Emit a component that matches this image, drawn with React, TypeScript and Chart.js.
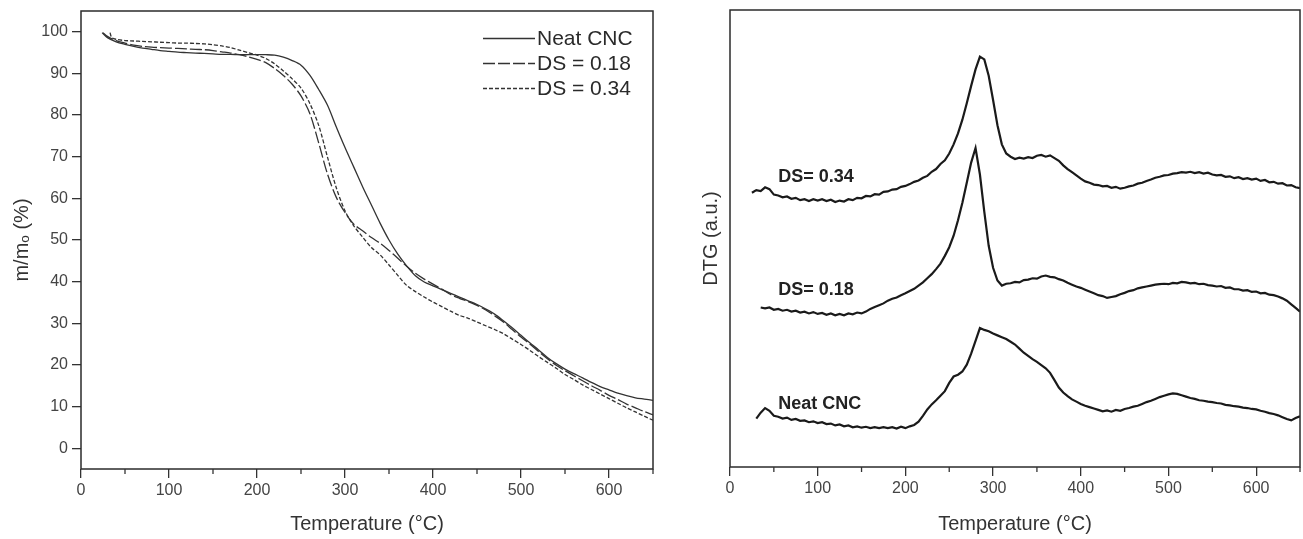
import React, { useEffect, useRef } from "react";
import { Chart, registerables } from "chart.js";

Chart.register(...registerables);

const FONT = "'Liberation Sans', Arial, Helvetica, sans-serif";

// ---------- TGA (left panel) ----------
const tgaNeatTemp = [24, 30, 40, 50, 60, 70, 80, 90, 100, 110, 120, 130, 140, 150, 160, 170, 180, 190, 200, 210, 220, 230, 240, 250, 260, 270, 280, 290, 300, 310, 320, 330, 340, 350, 360, 370, 380, 390, 400, 410, 420, 430, 440, 450, 460, 470, 480, 490, 500, 510, 520, 530, 540, 550, 560, 570, 580, 590, 600, 610, 620, 630, 640, 650];
const tgaNeatMass = [99.8, 98.6, 97.6, 97.0, 96.5, 96.1, 95.8, 95.5, 95.3, 95.1, 95.0, 94.9, 94.8, 94.7, 94.6, 94.6, 94.5, 94.5, 94.5, 94.5, 94.4, 93.9, 93.1, 92.0, 89.6, 86.2, 82.4, 77.2, 72.2, 67.5, 62.8, 58.4, 54.0, 50.0, 46.6, 43.8, 41.4, 39.9, 39.0, 38.1, 37.2, 36.3, 35.4, 34.5, 33.4, 32.2, 30.6, 28.9, 27.1, 25.3, 23.6, 21.8, 20.3, 19.0, 17.9, 16.9, 15.8, 14.8, 14.0, 13.2, 12.6, 12.1, 11.8, 11.5];

const tgaDs18Temp = [25, 30, 40, 50, 60, 70, 80, 90, 100, 110, 120, 130, 140, 150, 160, 170, 180, 190, 200, 210, 220, 230, 240, 250, 260, 270, 280, 290, 300, 310, 320, 330, 340, 350, 360, 370, 380, 390, 400, 410, 420, 430, 440, 450, 460, 470, 480, 490, 500, 510, 520, 530, 540, 550, 560, 570, 580, 590, 600, 610, 620, 630, 640, 650];
const tgaDs18Mass = [99.8, 98.9, 97.9, 97.3, 96.8, 96.5, 96.3, 96.2, 96.1, 96.0, 95.9, 95.8, 95.7, 95.5, 95.2, 94.9, 94.5, 94.0, 93.4, 92.6, 91.2, 89.5, 87.4, 84.6, 80.4, 73.4, 65.9, 60.3, 56.6, 53.8, 52.2, 50.6, 49.2, 47.5, 45.6, 43.7, 42.0, 40.6, 39.4, 38.2, 36.9, 36.0, 35.2, 34.3, 33.2, 31.8, 30.3, 28.5, 26.7, 25.0, 23.2, 21.5, 19.9, 18.6, 17.4, 16.2, 15.0, 13.9, 12.7, 11.7, 10.6, 9.7, 8.8, 8.0];

const tgaDs34Temp = [33, 35, 40, 50, 60, 70, 80, 90, 100, 110, 120, 130, 140, 150, 160, 170, 180, 190, 200, 210, 220, 230, 240, 250, 260, 270, 280, 290, 300, 310, 320, 330, 340, 350, 360, 370, 380, 390, 400, 410, 420, 430, 440, 450, 460, 470, 480, 490, 500, 510, 520, 530, 540, 550, 560, 570, 580, 590, 600, 610, 620, 630, 640, 650];
const tgaDs34Mass = [99.8, 98.6, 98.2, 97.9, 97.8, 97.7, 97.6, 97.5, 97.4, 97.3, 97.3, 97.2, 97.1, 96.9, 96.6, 96.2, 95.6, 95.0, 94.4, 93.6, 92.3, 90.6, 88.7, 86.5, 82.8, 77.6, 70.0, 62.6, 57.0, 53.4, 50.7, 48.2, 46.4, 44.0, 41.5, 39.1, 37.6, 36.3, 35.1, 34.0, 32.9, 31.9, 31.2, 30.3, 29.4, 28.5, 27.5, 26.2, 24.9, 23.5, 22.0, 20.6, 19.2, 17.7, 16.5, 15.2, 14.1, 13.0, 11.9, 10.8, 9.7, 8.7, 7.7, 6.7];

const tgaLabels = ["Neat CNC", "DS = 0.18", "DS = 0.34"];
const tgaYTicks = [0, 10, 20, 30, 40, 50, 60, 70, 80, 90, 100];
const xTicks = [0, 50, 100, 150, 200, 250, 300, 350, 400, 450, 500, 550, 600, 650];

// ---------- DTG (right panel) ----------
const dtgDs34Temp = [25, 30, 35, 40, 45, 50, 55, 60, 65, 70, 75, 80, 85, 90, 95, 100, 105, 110, 115, 120, 125, 130, 135, 140, 145, 150, 155, 160, 165, 170, 175, 180, 185, 190, 195, 200, 205, 210, 215, 220, 225, 230, 235, 240, 245, 250, 255, 260, 265, 270, 275, 280, 285, 290, 295, 300, 305, 310, 315, 320, 325, 330, 335, 340, 345, 350, 355, 360, 365, 370, 375, 380, 385, 390, 395, 400, 405, 410, 415, 420, 425, 430, 435, 440, 445, 450, 455, 460, 465, 470, 475, 480, 485, 490, 495, 500, 505, 510, 515, 520, 525, 530, 535, 540, 545, 550, 555, 560, 565, 570, 575, 580, 585, 590, 595, 600, 605, 610, 615, 620, 625, 630, 635, 640, 645, 650];
const dtgDs34 = [60.0, 60.6, 60.4, 61.2, 60.8, 59.6, 59.4, 59.0, 59.2, 58.7, 58.9, 58.4, 58.6, 58.2, 58.6, 58.3, 58.6, 58.2, 58.5, 58.0, 58.3, 58.1, 58.6, 58.4, 58.9, 58.8, 59.3, 59.2, 59.7, 59.6, 60.2, 60.3, 60.7, 60.8, 61.3, 61.5, 61.9, 62.4, 62.7, 63.3, 63.7, 64.6, 65.2, 66.3, 67.1, 68.6, 70.6, 73.0, 76.0, 79.6, 83.4, 87.0, 89.8, 89.2, 85.6, 80.3, 74.8, 70.6, 68.6, 67.9, 67.4, 67.7, 67.5, 67.8, 67.6, 68.1, 68.3, 67.9, 68.2, 67.6, 67.0, 66.0, 65.2, 64.5, 63.8, 63.1, 62.5, 62.2, 61.8, 61.7, 61.4, 61.5, 61.1, 61.3, 60.9, 61.1, 61.4, 61.6, 62.0, 62.2, 62.6, 62.9, 63.3, 63.5, 63.8, 63.9, 64.2, 64.3, 64.5, 64.4, 64.6, 64.3, 64.5, 64.2, 64.4, 64.0, 63.8, 63.9, 63.5, 63.6, 63.2, 63.4, 63.0, 63.2, 62.9, 63.1, 62.6, 62.8, 62.3, 62.4, 62.0, 62.1, 61.6, 61.7, 61.2, 61.0];

const dtgDs18Temp = [35, 40, 45, 50, 55, 60, 65, 70, 75, 80, 85, 90, 95, 100, 105, 110, 115, 120, 125, 130, 135, 140, 145, 150, 155, 160, 165, 170, 175, 180, 185, 190, 195, 200, 205, 210, 215, 220, 225, 230, 235, 240, 245, 250, 255, 260, 265, 270, 275, 280, 285, 290, 295, 300, 305, 310, 315, 320, 325, 330, 335, 340, 345, 350, 355, 360, 365, 370, 375, 380, 385, 390, 395, 400, 405, 410, 415, 420, 425, 430, 435, 440, 445, 450, 455, 460, 465, 470, 475, 480, 485, 490, 495, 500, 505, 510, 515, 520, 525, 530, 535, 540, 545, 550, 555, 560, 565, 570, 575, 580, 585, 590, 595, 600, 605, 610, 615, 620, 625, 630, 635, 640, 645, 650];
const dtgDs18 = [34.9, 34.7, 34.9, 34.4, 34.6, 34.2, 34.4, 34.0, 34.2, 33.8, 34.0, 33.6, 33.9, 33.5, 33.7, 33.3, 33.6, 33.2, 33.5, 33.2, 33.6, 33.4, 33.8, 33.6, 34.0, 34.6, 35.0, 35.4, 35.8, 36.4, 36.8, 37.1, 37.6, 38.0, 38.5, 39.0, 39.7, 40.4, 41.3, 42.2, 43.3, 44.5, 46.2, 48.1, 50.6, 54.0, 57.8, 62.2, 66.6, 69.8, 64.0, 55.8, 48.4, 43.6, 40.8, 39.7, 40.1, 40.2, 40.5, 40.4, 40.9, 41.0, 41.3, 41.2, 41.7, 41.9, 41.6, 41.5, 41.1, 40.8, 40.3, 39.9, 39.5, 39.2, 38.8, 38.4, 38.0, 37.6, 37.4, 37.0, 37.2, 37.4, 37.8, 38.1, 38.5, 38.7, 39.1, 39.3, 39.5, 39.7, 39.9, 40.0, 40.1, 40.0, 40.3, 40.2, 40.5, 40.4, 40.2, 40.3, 40.0, 40.1, 39.8, 39.7, 39.5, 39.6, 39.2, 39.3, 38.9, 38.9, 38.6, 38.7, 38.3, 38.4, 38.0, 38.1, 37.7, 37.6, 37.3, 36.9, 36.4, 35.6, 34.8, 34.0];

const dtgNeatTemp = [30, 35, 40, 45, 50, 55, 60, 65, 70, 75, 80, 85, 90, 95, 100, 105, 110, 115, 120, 125, 130, 135, 140, 145, 150, 155, 160, 165, 170, 175, 180, 185, 190, 195, 200, 205, 210, 215, 220, 225, 230, 235, 240, 245, 250, 255, 260, 265, 270, 275, 280, 285, 290, 295, 300, 305, 310, 315, 320, 325, 330, 335, 340, 345, 350, 355, 360, 365, 370, 375, 380, 385, 390, 395, 400, 405, 410, 415, 420, 425, 430, 435, 440, 445, 450, 455, 460, 465, 470, 475, 480, 485, 490, 495, 500, 505, 510, 515, 520, 525, 530, 535, 540, 545, 550, 555, 560, 565, 570, 575, 580, 585, 590, 595, 600, 605, 610, 615, 620, 625, 630, 635, 640, 645, 650];
const dtgNeat = [10.6, 11.9, 12.9, 12.3, 11.2, 11.0, 10.6, 10.8, 10.3, 10.5, 10.1, 10.2, 9.8, 10.0, 9.6, 9.8, 9.4, 9.5, 9.1, 9.3, 8.9, 9.1, 8.7, 8.9, 8.6, 8.8, 8.5, 8.7, 8.5, 8.7, 8.5, 8.7, 8.4, 8.8, 8.5, 8.9, 9.2, 9.9, 11.2, 12.6, 13.7, 14.6, 15.6, 16.6, 18.4, 19.8, 20.2, 20.9, 22.4, 24.8, 27.6, 30.4, 30.0, 29.7, 29.2, 28.8, 28.4, 28.0, 27.4, 26.8, 25.9, 25.0, 24.3, 23.6, 23.0, 22.3, 21.6, 20.6, 19.0, 17.4, 16.3, 15.5, 14.8, 14.3, 13.8, 13.4, 13.1, 12.8, 12.5, 12.2, 12.4, 12.1, 12.5, 12.3, 12.7, 12.9, 13.2, 13.4, 13.8, 14.2, 14.5, 14.9, 15.3, 15.6, 15.9, 16.1, 16.0, 15.7, 15.4, 15.1, 14.9, 14.6, 14.5, 14.3, 14.2, 14.0, 13.9, 13.6, 13.5, 13.3, 13.2, 13.0, 12.9, 12.7, 12.6, 12.3, 12.1, 11.8, 11.6, 11.3, 10.9, 10.5, 10.2, 10.7, 11.1];

const dtgLabels = ["DS= 0.34", "DS= 0.18", "Neat CNC"];
const dtgLabelAnchor = [
  [55, 62.3],
  [55, 37.7],
  [55, 12.8],
];

const pts = (xs: number[], ys: number[]) => xs.map((x, i) => ({ x, y: ys[i] }));
const isMajor = (v: number) => v % 100 === 0;

const framePlugin = {
  id: "frame",
  afterDatasetsDraw(chart: any) {
    const { ctx, chartArea } = chart;
    ctx.save();
    ctx.strokeStyle = "#2b2b2b";
    ctx.lineWidth = 1.5;
    ctx.setLineDash([]);
    ctx.strokeRect(chartArea.left, chartArea.top, chartArea.right - chartArea.left, chartArea.bottom - chartArea.top);
    // minor x ticks (shorter than the major ones)
    const xs = chart.scales.x;
    ctx.lineWidth = 1.3;
    ctx.strokeStyle = "#333";
    xTicks.filter((v) => !isMajor(v)).forEach((v) => {
      const px = xs.getPixelForValue(v);
      ctx.beginPath();
      ctx.moveTo(px, chartArea.bottom);
      ctx.lineTo(px, chartArea.bottom + 5);
      ctx.stroke();
    });
    ctx.restore();
  },
};

const tgaLegendPlugin = {
  id: "tgaLegend",
  afterDraw(chart: any) {
    const { ctx, chartArea } = chart;
    chart.data.datasets.forEach((ds: any, i: number) => {
      const y = chartArea.top + 27.5 + i * 25;
      const x0 = chartArea.right - 170;
      ctx.save();
      ctx.strokeStyle = ds.borderColor;
      ctx.lineWidth = ds.borderWidth;
      ctx.setLineDash(ds.borderDash || []);
      ctx.beginPath();
      ctx.moveTo(x0, y);
      ctx.lineTo(x0 + 52, y);
      ctx.stroke();
      ctx.setLineDash([]);
      ctx.fillStyle = "#2a2a2a";
      ctx.font = `21px ${FONT}`;
      ctx.textBaseline = "middle";
      ctx.textAlign = "left";
      ctx.fillText(ds.label, x0 + 54, y + 1);
      ctx.restore();
    });
  },
};

const dtgLabelPlugin = {
  id: "dtgLabels",
  afterDatasetsDraw(chart: any) {
    const { ctx } = chart;
    const xs = chart.scales.x;
    const ys = chart.scales.y;
    ctx.save();
    ctx.font = `bold 18px ${FONT}`;
    ctx.fillStyle = "#222";
    ctx.textBaseline = "alphabetic";
    ctx.textAlign = "left";
    dtgLabels.forEach((t, i) => {
      ctx.fillText(t, xs.getPixelForValue(dtgLabelAnchor[i][0]), ys.getPixelForValue(dtgLabelAnchor[i][1]));
    });
    ctx.restore();
  },
};

const xAxis = (axisHeight: number) => ({
  type: "linear" as const,
  min: 0,
  max: 650,
  afterBuildTicks: (s: any) => {
    s.ticks = xTicks.map((v) => ({ value: v }));
  },
  afterFit: (s: any) => {
    s.height = axisHeight;
    s.paddingLeft = 0;
    s.paddingRight = 0;
  },
  border: { display: false },
  grid: {
    drawOnChartArea: false,
    drawTicks: true,
    tickLength: 9,
    lineWidth: 1.3,
    color: "#333",
    tickColor: (c: any) => (c.tick && !isMajor(c.tick.value) ? "rgba(0,0,0,0)" : "#333"),
  },
  ticks: {
    autoSkip: false,
    maxRotation: 0,
    padding: 3,
    color: "#444",
    font: { size: 16, family: FONT },
    callback: (v: any) => (isMajor(Number(v)) && Number(v) <= 600 ? String(v) : ""),
  },
  title: {
    display: true,
    text: "Temperature (°C)",
    color: "#333",
    font: { size: 20, family: FONT },
    padding: { top: 0, bottom: 3 },
  },
});

export default function App() {
  const leftRef = useRef<HTMLCanvasElement>(null);
  const rightRef = useRef<HTMLCanvasElement>(null);

  useEffect(() => {
    Chart.defaults.font.family = FONT;
    const left = new Chart(leftRef.current!, {
      type: "line",
      data: {
        datasets: [
          { label: tgaLabels[0], data: pts(tgaNeatTemp, tgaNeatMass), borderColor: "#333", borderWidth: 1.3, pointRadius: 0, tension: 0.3, borderDash: [] },
          { label: tgaLabels[1], data: pts(tgaDs18Temp, tgaDs18Mass), borderColor: "#333", borderWidth: 1.3, pointRadius: 0, tension: 0.3, borderDash: [12, 3] },
          { label: tgaLabels[2], data: pts(tgaDs34Temp, tgaDs34Mass), borderColor: "#333", borderWidth: 1.3, pointRadius: 0, tension: 0.3, borderDash: [4, 2] },
        ],
      },
      options: {
        responsive: false,
        animation: false,
        layout: { padding: { top: 11, right: 7, left: 0, bottom: 0 } },
        plugins: { legend: { display: false }, tooltip: { enabled: false } },
        scales: {
          x: xAxis(70) as any,
          y: {
            type: "linear",
            min: -5,
            max: 105,
            afterBuildTicks: (s: any) => {
              s.ticks = tgaYTicks.map((v) => ({ value: v }));
            },
            afterFit: (s: any) => {
              s.width = 81;
              s.paddingTop = 0;
              s.paddingBottom = 0;
            },
            border: { display: false },
            grid: { drawOnChartArea: false, drawTicks: true, tickLength: 9, color: "#333", lineWidth: 1.3 },
            ticks: { padding: 4, color: "#444", font: { size: 16, family: FONT } },
            title: {
              display: true,
              text: "m/mₒ (%)",
              color: "#333",
              font: { size: 20, family: FONT },
              padding: { top: 10, bottom: 0 },
            },
          },
        },
      },
      plugins: [framePlugin, tgaLegendPlugin],
    });

    const right = new Chart(rightRef.current!, {
      type: "line",
      data: {
        datasets: [
          { label: dtgLabels[0], data: pts(dtgDs34Temp, dtgDs34), borderColor: "#1a1a1a", borderWidth: 2.2, pointRadius: 0, tension: 0 },
          { label: dtgLabels[1], data: pts(dtgDs18Temp, dtgDs18), borderColor: "#1a1a1a", borderWidth: 2.2, pointRadius: 0, tension: 0 },
          { label: dtgLabels[2], data: pts(dtgNeatTemp, dtgNeat), borderColor: "#1a1a1a", borderWidth: 2.2, pointRadius: 0, tension: 0 },
        ],
      },
      options: {
        responsive: false,
        animation: false,
        layout: { padding: { top: 10, right: 3, left: 0, bottom: 0 } },
        plugins: { legend: { display: false }, tooltip: { enabled: false } },
        scales: {
          x: xAxis(72) as any,
          y: {
            type: "linear",
            min: 0,
            max: 100,
            afterFit: (s: any) => {
              s.width = 70;
              s.paddingTop = 0;
              s.paddingBottom = 0;
            },
            border: { display: false },
            grid: { display: false },
            ticks: { display: false },
            title: {
              display: true,
              text: "DTG (a.u.)",
              color: "#333",
              font: { size: 20, family: FONT },
              padding: { top: 39, bottom: 0 },
            },
          },
        },
      },
      plugins: [framePlugin, dtgLabelPlugin],
    });

    return () => {
      left.destroy();
      right.destroy();
    };
  }, []);

  return (
    <div style={{ position: "fixed", left: 0, top: 0, width: 1303, height: 539, background: "#fff" }}>
      <canvas ref={leftRef} width={660} height={539} style={{ position: "absolute", left: 0, top: 0 }} />
      <canvas ref={rightRef} width={643} height={539} style={{ position: "absolute", left: 660, top: 0 }} />
    </div>
  );
}
